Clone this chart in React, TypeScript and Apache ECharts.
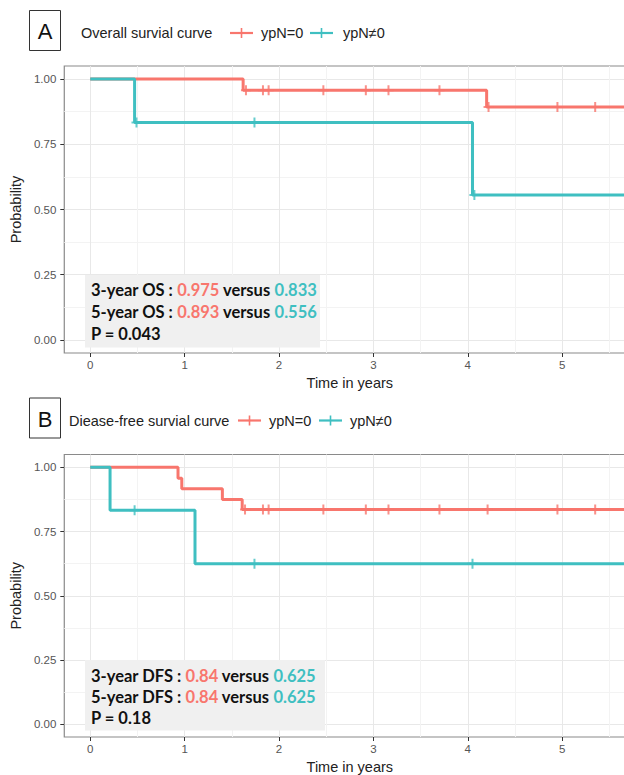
import React, { useEffect, useRef } from "react";
import * as echarts from "echarts";

// ---- axis ticks ----
const xTicks = [0, 1, 2, 3, 4, 5];
const xMinor = [0.5, 1.5, 2.5, 3.5, 4.5, 5.5];
const yTicks = [0, 0.25, 0.5, 0.75, 1];
const yMinor = [0.125, 0.375, 0.625, 0.875];

// ---- groups ----
const groupNames = ["ypN=0", "ypN\u22600"];
const groupColors = ["#F8766D", "#3FBFC1"];

// ---- Panel A: overall survival ----
const osTimes0 = [0, 1.62, 4.2, 5.9];
const osSurv0 = [1, 0.957, 0.893, 0.893];
const osCensor0 = [1.65, 1.83, 1.89, 2.47, 2.92, 3.16, 3.7, 4.22, 4.95, 5.35];
const osTimes1 = [0, 0.47, 4.05, 5.9];
const osSurv1 = [1, 0.833, 0.556, 0.556];
const osCensor1 = [0.49, 1.74, 4.07];

// ---- Panel B: disease-free survival ----
const dfsTimes0 = [0, 0.93, 0.97, 1.4, 1.61, 5.9];
const dfsSurv0 = [1, 0.958, 0.917, 0.875, 0.836, 0.836];
const dfsCensor0 = [1.64, 1.83, 1.89, 2.47, 2.92, 3.16, 3.7, 4.21, 4.95, 5.35];
const dfsTimes1 = [0, 0.21, 1.11, 5.9];
const dfsSurv1 = [1, 0.833, 0.625, 0.625];
const dfsCensor1 = [0.47, 1.74, 4.05];

// ---- texts ----
const panelLetters = ["A", "B"];
const panelTitles = ["Overall survial curve", "Diease-free survial curve"];
const statLabelsA = [
  ["3-year OS : ", "0.975", " versus ", "0.833"],
  ["5-year OS : ", "0.893", " versus ", "0.556"],
];
const pValueA = "P = 0.043";
const statLabelsB = [
  ["3-year DFS : ", "0.84", " versus ", "0.625"],
  ["5-year DFS : ", "0.84", " versus ", "0.625"],
];
const pValueB = "P = 0.18";

const FONT = "'Liberation Sans', Arial, sans-serif";
const BOLD = "Lato, 'Open Sans', sans-serif";
const CROSS =
  "path://M-0.9,-4.5 L0.9,-4.5 L0.9,-0.9 L4.5,-0.9 L4.5,0.9 L0.9,0.9 L0.9,4.5 L-0.9,4.5 L-0.9,0.9 L-4.5,0.9 L-4.5,-0.9 L-0.9,-0.9 Z";

function survAt(times: number[], surv: number[], t: number) {
  let s = surv[0];
  for (let i = 0; i < times.length; i++) if (times[i] <= t) s = surv[i];
  return s;
}

export default function App() {
  const ref = useRef<HTMLDivElement>(null);
  useEffect(() => {
    if (!ref.current) return;
    const chart = echarts.init(ref.current, undefined, { renderer: "svg" });

    const W = 650;
    const gridL = 63;
    const gridR = W - 635.3;
    const grids = [
      { left: gridL, right: gridR, top: 66, bottom: 775 - 353 },
      { left: gridL, right: gridR, top: 454.5, bottom: 775 - 741 },
    ];

    const xAxes: any[] = [];
    const yAxes: any[] = [];
    [0, 1].forEach((g) => {
      xAxes.push({
        type: "value",
        gridIndex: g,
        min: -0.275,
        max: 5.775,
        axisLine: { show: false, onZero: false },
        axisTick: { show: true, length: 4, customValues: xTicks, lineStyle: { color: "#333", width: 1 } },
        axisLabel: { customValues: xTicks, fontSize: 11.5, color: "#555", margin: 6, fontFamily: FONT },
        splitLine: { show: true, lineStyle: { color: "#e8e8e8", width: 1 } },
        name: "Time in years",
        nameLocation: "middle",
        nameGap: 22,
        nameTextStyle: { fontSize: 14.5, color: "#222", fontFamily: FONT },
      });
      xAxes.push({
        type: "value",
        gridIndex: g,
        min: -0.275,
        max: 5.775,
        axisLine: { show: false, onZero: false },
        axisTick: { show: false, customValues: xMinor },
        axisLabel: { show: false, customValues: xMinor },
        splitLine: { show: true, lineStyle: { color: "#f3f3f3", width: 1 } },
      });
      yAxes.push({
        type: "value",
        gridIndex: g,
        min: -0.05,
        max: 1.05,
        axisLine: { show: false, onZero: false },
        axisTick: { show: true, length: 4, customValues: yTicks, lineStyle: { color: "#333", width: 1 } },
        axisLabel: {
          customValues: yTicks,
          fontSize: 11.5,
          color: "#555",
          margin: 8,
          fontFamily: FONT,
          formatter: (v: number) => v.toFixed(2),
        },
        splitLine: { show: true, lineStyle: { color: "#e8e8e8", width: 1 } },
        name: "Probability",
        nameLocation: "middle",
        nameGap: 38,
        nameTextStyle: { fontSize: 14.5, color: "#222", fontFamily: FONT },
      });
      yAxes.push({
        type: "value",
        gridIndex: g,
        min: -0.05,
        max: 1.05,
        axisLine: { show: false, onZero: false },
        axisTick: { show: false, customValues: yMinor },
        axisLabel: { show: false, customValues: yMinor },
        splitLine: { show: true, lineStyle: { color: "#f3f3f3", width: 1 } },
      });
    });

    const curves = [
      { g: 0, times: osTimes0, surv: osSurv0, cens: osCensor0, c: 0 },
      { g: 0, times: osTimes1, surv: osSurv1, cens: osCensor1, c: 1 },
      { g: 1, times: dfsTimes0, surv: dfsSurv0, cens: dfsCensor0, c: 0 },
      { g: 1, times: dfsTimes1, surv: dfsSurv1, cens: dfsCensor1, c: 1 },
    ];
    const series: any[] = [];
    curves.forEach((cv) => {
      series.push({
        type: "line",
        name: groupNames[cv.c],
        xAxisIndex: cv.g * 2,
        yAxisIndex: cv.g * 2,
        step: "end",
        showSymbol: false,
        symbol: "none",
        data: cv.times.map((t, i) => [t, cv.surv[i]]),
        lineStyle: { color: groupColors[cv.c], width: 3 },
        z: 3,
      });
      series.push({
        type: "scatter",
        name: groupNames[cv.c],
        xAxisIndex: cv.g * 2,
        yAxisIndex: cv.g * 2,
        symbol: CROSS,
        symbolSize: 10,
        data: cv.cens.map((t) => [t, survAt(cv.times, cv.surv, t)]),
        itemStyle: { color: groupColors[cv.c] },
        z: 4,
      });
    });

    const graphic: any[] = [];
    const header = (i: number, top: number, titleX: number, legendX: number[], textX: number[]) => {
      graphic.push({
        type: "rect",
        shape: { x: 29.5, y: top, width: 31, height: 40 },
        style: { fill: "#fff", stroke: "#333", lineWidth: 1 },
      });
      graphic.push({
        type: "text",
        x: 45,
        y: top + 21,
        style: {
          text: panelLetters[i],
          fontSize: 22,
          fontFamily: FONT,
          fill: "#111",
          align: "center",
          verticalAlign: "middle",
        },
      });
      const cy = top + 22.5;
      graphic.push({
        type: "text",
        x: titleX,
        y: cy,
        style: { text: panelTitles[i], fontSize: 14.5, fontFamily: FONT, fill: "#222", verticalAlign: "middle" },
      });
      [0, 1].forEach((k) => {
        const x0 = legendX[k];
        graphic.push({
          type: "line",
          shape: { x1: x0, y1: cy, x2: x0 + 23, y2: cy },
          style: { stroke: groupColors[k], lineWidth: 2.2 },
        });
        graphic.push({
          type: "line",
          shape: { x1: x0 + 11.5, y1: cy - 5, x2: x0 + 11.5, y2: cy + 5 },
          style: { stroke: groupColors[k], lineWidth: 1.6 },
        });
        graphic.push({
          type: "text",
          x: textX[k],
          y: cy,
          style: { text: groupNames[k], fontSize: 14.5, fontFamily: FONT, fill: "#222", verticalAlign: "middle" },
        });
      });
    };
    header(0, 10.5, 81, [230, 310], [261, 343]);
    header(1, 398, 69, [238, 319], [269, 350]);

    const FS = 16.5;
    const rich = {
      b: { fontFamily: BOLD, fontWeight: "bold", fontSize: FS, fill: "#111", color: "#111" },
      r: { fontFamily: BOLD, fontWeight: "bold", fontSize: FS, fill: groupColors[0], color: groupColors[0] },
      t: { fontFamily: BOLD, fontWeight: "bold", fontSize: FS, fill: groupColors[1], color: groupColors[1] },
    };
    const statBox = (box: number[], lines: string[][], p: string, ys: number[]) => {
      graphic.push({
        type: "rect",
        z: 5,
        shape: { x: box[0], y: box[1], width: box[2] - box[0], height: box[3] - box[1] },
        style: { fill: "#f0f0f0" },
      });
      lines.forEach((ln, k) => {
        graphic.push({
          type: "text",
          z: 6,
          x: 91,
          y: ys[k],
          style: {
            text: `{b|${ln[0]}}{r|${ln[1]}}{b|${ln[2]}}{t|${ln[3]}}`,
            rich,
            verticalAlign: "middle",
          },
        });
      });
      graphic.push({
        type: "text",
        z: 6,
        x: 91,
        y: ys[2],
        style: { text: `{b|${p}}`, rich, verticalAlign: "middle" },
      });
    };
    statBox([85, 275, 320, 347.5], statLabelsA, pValueA, [290, 312, 334]);
    statBox([85, 660, 325, 730.5], statLabelsB, pValueB, [675.5, 697, 718]);

    chart.setOption({
      animation: false,
      backgroundColor: "#fff",
      grid: grids.map((g) => ({
        ...g,
        show: true,
        borderColor: "#8a8a8a",
        borderWidth: 1.2,
        backgroundColor: "transparent",
      })),
      xAxis: xAxes,
      yAxis: yAxes,
      series,
      graphic,
    });
    return () => chart.dispose();
  }, []);

  return (
    <div
      style={{
        position: "fixed",
        left: 0,
        top: 0,
        width: 624,
        height: 775,
        overflow: "hidden",
        background: "#fff",
      }}
    >
      <div ref={ref} style={{ width: 650, height: 775 }} />
    </div>
  );
}
